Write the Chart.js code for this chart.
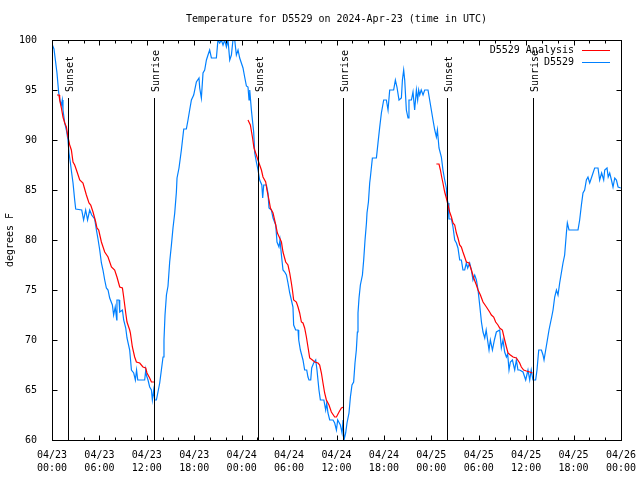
<!DOCTYPE html>
<html><head><meta charset="utf-8">
<script src="https://cdn.jsdelivr.net/npm/chart.js@4/dist/chart.umd.min.js"></script>
<style>html,body{margin:0;padding:0;background:#fff}canvas{display:block}</style>
</head><body>
<canvas id="c" width="640" height="480"></canvas>
<script>
const titleText = 'Temperature for D5529 on 2024-Apr-23 (time in UTC)';
const yTitle = 'degrees F';
const xTickLabels = ['04/23 00:00','04/23 06:00','04/23 12:00','04/23 18:00','04/24 00:00','04/24 06:00','04/24 12:00','04/24 18:00','04/25 00:00','04/25 06:00','04/25 12:00','04/25 18:00','04/26 00:00'];
const yTicks = [60,65,70,75,80,85,90,95,100];
const eventHours = [2.02, 12.91, 26.07, 36.82, 49.98, 60.86];
const eventLabels = ['Sunset','Sunrise','Sunset','Sunrise','Sunset','Sunrise'];
const seriesNames = ['D5529 Analysis','D5529'];

// observed D5529 (hours since 04/23 00:00 UTC, degrees F)
const obsHours = [0,0.25,0.63,0.85,1.06,1.19,1.3,1.39,1.61,1.82,2.02,2.15,2.33,2.49,2.66,2.87,3.0,3.76,4.0,4.26,4.5,4.77,5.02,5.4,5.62,5.82,6.04,6.25,6.45,6.67,6.88,7.09,7.3,7.64,7.8,8.0,8.19,8.22,8.48,8.57,8.91,9.07,9.33,9.49,9.83,10.05,10.34,10.55,10.7,10.85,11.73,11.86,11.94,12.15,12.36,12.58,12.7,12.87,13.0,13.21,13.41,13.63,13.84,14.05,14.17,14.3,14.48,14.68,14.89,15.11,15.31,15.53,15.74,15.82,16.07,16.37,16.67,17.0,17.21,17.42,17.64,17.93,18.27,18.6,18.69,18.9,19.11,19.32,19.54,19.74,19.95,20.17,20.8,21.0,21.22,21.43,21.64,21.85,22.07,22.27,22.49,22.7,22.9,23.12,23.33,23.54,23.75,23.96,24.17,24.38,24.6,24.8,24.93,25.02,25.23,25.36,25.52,25.65,25.86,26.07,26.28,26.55,26.66,26.79,27.13,27.33,27.46,27.76,27.97,28.31,28.47,28.72,28.85,29.03,29.23,29.45,29.66,29.86,30.08,30.29,30.49,30.58,30.83,31.13,31.22,31.43,31.76,31.97,32.23,32.39,32.52,32.74,32.86,33.11,33.37,33.53,33.78,33.96,34.4,34.63,34.76,34.92,35.14,35.56,35.77,35.99,36.15,36.49,36.7,36.83,36.95,37.16,37.33,37.58,37.76,37.96,38.17,38.34,38.51,38.64,38.72,38.85,39.02,39.28,39.44,39.61,39.79,39.86,40.04,40.2,40.29,40.54,41.05,41.25,41.47,41.68,41.97,42.31,42.52,42.73,43.23,43.45,43.65,43.91,44.21,44.34,44.5,44.63,44.84,45.05,45.17,45.48,45.68,45.89,46.11,46.27,46.4,46.53,46.72,46.95,47.16,47.58,47.79,48.0,48.21,48.43,48.64,48.77,48.97,49.27,49.47,49.69,49.9,49.98,50.11,50.23,50.54,50.74,50.96,51.17,51.37,51.59,51.8,52.0,52.22,52.43,52.6,52.85,53.07,53.27,53.49,53.7,53.91,54.12,54.34,54.54,54.76,54.94,55.17,55.3,55.47,55.73,55.98,56.23,56.65,56.86,57.07,57.28,57.5,57.66,57.83,58.0,58.26,58.55,58.76,58.96,59.18,59.6,59.94,60.23,60.45,60.64,60.86,61.2,61.37,61.59,61.93,62.13,62.26,62.47,62.64,62.89,63.07,63.23,63.4,63.61,63.83,64.03,64.24,64.45,64.66,64.87,65.09,65.21,65.42,66.56,66.77,66.99,67.19,67.4,67.62,67.82,68.04,68.46,68.67,69.09,69.3,69.55,69.81,69.94,70.23,70.38,70.57,70.79,70.99,71.21,71.42,71.63,71.97];
const obsTemps = [99.6,99.1,96.7,94.7,93.8,93.5,94,93,91.7,91,90,88.7,87.7,86.7,85.7,84,83.1,83,82,83,82,83,82.5,82.1,81,80.1,79,77.7,77,76,75.2,75,74.2,73.5,72.5,73.3,72,74,74,72.8,73,72,71.2,70.2,69,67,66.7,66,67,66,66,67,66.5,66,65.3,65,64,65,64,64,64.8,65.7,67,68.3,70,72.5,74.5,75.4,77.8,79.5,81.2,82.7,84.8,86.2,87.2,89,91.1,91.1,92,93,94,94.5,95.8,96.2,95.2,94.2,96.7,97,98,98.5,99,98.2,98.2,100,99.7,100,99.5,100,99.3,100,98,98.5,100,100,98.5,99,98.2,97.7,97.2,96.3,95.4,95.3,94,95,93,92,90.8,88.7,87.8,87,86,85.5,84.2,85.5,85.5,84.7,83.2,83,82.2,81.5,79.8,79.3,80,78.5,77,76.8,76.5,75.7,74.7,74,73.3,71.5,71,71,70,69,68,67,67,66.3,66,66,67.2,67.7,68,67,65,64,64,63,63.7,62.7,62,62,61.7,61,62,61.5,60.7,62,60,60.7,61.7,62.7,64.3,65.5,65.8,67.7,69,70.8,72.7,74.2,75.5,76.5,78,80,81.7,82.7,83.8,85.7,86.3,88.2,88.2,89.7,91.3,92.7,94,94,93,95,95,96,95.3,94,94.2,96,97,96,93,92.2,94,94,94.8,93,95,94,95,94.5,95,94.5,95,95,94,93,92,91,90.3,91,89.2,88.3,87,86,85.2,84.2,83.7,82.1,82.1,81.3,80,79.7,79.2,78,78,77,77,77.7,77.2,77.7,77,76,76.5,76,75,73.5,71.8,70.8,70.2,71,69.7,69,70,69,70,70.8,71,69.2,70,68.8,68.3,68.6,67,67.8,68,67,68,67,67,66.8,66,67,66,67,66,66,67,69,69,68.5,68,69,69.8,71,71.7,72.3,73,74.3,75,74.5,75.7,76.7,77.7,78.5,80.7,81.7,81,81,82,83.5,84.7,85,86,86.3,85.7,86.7,87.2,87.2,86,86.7,86,87,87.2,86.3,86.7,86,85.3,86.2,86,85.3,85.2];

// analysis (null temps break the line between nights)
const anaHours = [0.63,0.89,0.97,1.19,1.39,1.61,1.82,2.02,2.24,2.45,2.66,2.87,3.09,3.51,3.92,4.35,4.68,4.9,5.19,5.53,5.69,5.91,6.25,6.67,7.09,7.52,7.93,8.22,8.57,8.91,9.07,9.33,9.49,9.83,9.92,10.17,10.46,10.68,11.1,11.51,11.86,12.02,12.36,12.58,12.91,
 18,
 24.8,25.1,25.36,25.56,25.86,26.19,26.5,26.7,27.04,27.2,27.46,27.64,27.97,28.31,28.52,28.81,29.03,29.23,29.57,29.86,30.08,30.29,30.42,30.58,30.92,31.13,31.34,31.56,31.76,31.97,32.19,32.39,32.61,32.95,33.24,33.66,33.87,34.09,34.29,34.5,34.72,35.05,35.35,35.77,35.99,36.32,36.62,36.91,
 42,
 48.64,48.97,49.15,49.31,49.47,49.69,49.9,50.11,50.32,50.54,50.74,50.96,51.17,51.37,51.59,51.8,52.0,52.22,52.43,52.77,53.07,53.36,53.7,53.91,54.21,54.54,54.97,55.38,55.6,55.89,56.14,56.43,56.65,56.99,57.28,57.5,57.7,58.0,58.34,58.76,59.18,59.39,59.68,60.03,60.45,60.79];
const anaTemps = [94.5,94.5,94,93.2,92.3,91.7,91.3,90.3,89.5,89,87.8,87.5,87,86,85.7,84.5,83.7,83.5,82.8,81.8,81.2,81,79.8,78.8,78.3,77.3,77,76.3,75.3,75.2,74.3,72.7,71.8,71,70.7,69.3,68.3,67.8,67.7,67.3,67.2,66.7,66.2,65.8,65.8,
 null,
 92,91.5,90.3,89.2,88.5,87.7,87,86.3,85.8,85,84,83.2,82.7,81.5,80.7,80.2,79.8,78.8,77.8,77.5,76.7,75.7,75,74,73.8,73.3,72.7,71.8,71.7,71.2,70.3,69.3,68.2,68,67.8,67.7,67.5,66.7,65.7,64.7,64,63.5,62.8,62.3,62.3,62.8,63.2,63.3,
 null,
 87.6,87.6,87,86.3,85.7,84.8,84.2,83.5,82.8,82.3,81.7,81.5,80.7,80.2,79.5,79.3,78.8,78.3,77.8,77.7,77,76.2,75.5,75,74.5,73.8,73.3,72.8,72.5,72.3,71.8,71.5,71.2,71,70,69.3,68.7,68.5,68.3,68.2,67.7,67.3,67,66.9,66.8,66.7];

const FONT = 'DejaVu Sans Mono';
const RED = '#ff0000', BLUE = '#0080ff';

const gnuplotDecor = {
  id: 'gnuplotDecor',
  afterDatasetsDraw(chart) {
    const ctx = chart.ctx, a = chart.chartArea, xs = chart.scales.x, ys = chart.scales.y;
    ctx.save();
    ctx.strokeStyle = '#000'; ctx.lineWidth = 1;
    const yTop = ys.getPixelForValue(94.2);
    eventHours.forEach((h, i) => {
      const px = Math.round(xs.getPixelForValue(h)) + 0.5;
      ctx.beginPath(); ctx.moveTo(px, yTop); ctx.lineTo(px, a.bottom); ctx.stroke();
      ctx.save();
      ctx.translate(px + 2, yTop - 6);
      ctx.rotate(-Math.PI / 2);
      ctx.font = '10px ' + FONT; ctx.fillStyle = '#000';
      ctx.textAlign = 'left'; ctx.textBaseline = 'middle';
      ctx.fillText(eventLabels[i], 0, 0);
      ctx.restore();
    });
    const L = Math.round(a.left) + 0.5, R = Math.round(a.right) + 0.5, T = Math.round(a.top) + 0.5, B = Math.round(a.bottom) + 0.5;
    ctx.strokeRect(L, T, R - L, B - T);
    for (let h = 0; h <= 72; h += 2) {
      const px = Math.round(xs.getPixelForValue(h)) + 0.5;
      const len = (h % 6 === 0) ? 5 : 3;
      ctx.beginPath();
      ctx.moveTo(px, B); ctx.lineTo(px, B - len);
      ctx.moveTo(px, T); ctx.lineTo(px, T + len);
      ctx.stroke();
    }
    yTicks.forEach(v => {
      const py = Math.round(ys.getPixelForValue(v)) + 0.5;
      ctx.beginPath();
      ctx.moveTo(L, py); ctx.lineTo(L + 5, py);
      ctx.moveTo(R, py); ctx.lineTo(R - 5, py);
      ctx.stroke();
    });
    ctx.font = '10px ' + FONT; ctx.fillStyle = '#000';
    ctx.textAlign = 'center'; ctx.textBaseline = 'middle';
    ctx.fillText(titleText, (a.left + a.right) / 2, 19);
    ctx.save();
    ctx.translate(10, (a.top + a.bottom) / 2);
    ctx.rotate(-Math.PI / 2);
    ctx.fillText(yTitle, 0, 0);
    ctx.restore();
    const cols = [RED, BLUE];
    seriesNames.forEach((n, i) => {
      const y = 50 + i * 12;
      ctx.textAlign = 'right'; ctx.fillStyle = '#000';
      ctx.fillText(n, 574, y);
      ctx.strokeStyle = cols[i];
      ctx.beginPath(); ctx.moveTo(582, Math.round(y) + 0.5); ctx.lineTo(610, Math.round(y) + 0.5); ctx.stroke();
    });
    ctx.restore();
  }
};

const obsData = obsHours.map((h, i) => ({x: h, y: obsTemps[i]}));
const anaData = anaHours.map((h, i) => ({x: h, y: anaTemps[i]}));

Chart.defaults.font.family = FONT;
Chart.defaults.font.size = 10;
Chart.defaults.color = '#000';

new Chart(document.getElementById('c'), {
  type: 'line',
  data: {
    datasets: [
      {label: seriesNames[0], data: anaData, borderColor: RED, borderWidth: 1.2, pointRadius: 0, tension: 0, spanGaps: false, fill: false},
      {label: seriesNames[1], data: obsData, borderColor: BLUE, borderWidth: 1.2, pointRadius: 0, tension: 0, fill: false}
    ]
  },
  options: {
    responsive: false, animation: false, events: [],
    layout: {padding: {top: 40, right: 19, left: 0, bottom: 0}},
    plugins: {legend: {display: false}, title: {display: false}, tooltip: {enabled: false}},
    scales: {
      x: {
        type: 'linear', min: 0, max: 72,
        grid: {display: false}, border: {display: false},
        afterFit: s => { s.height = 40; s.paddingLeft = 0; s.paddingRight = 0; },
        afterBuildTicks: s => { s.ticks = xTickLabels.map((_, i) => ({value: i * 6})); },
        ticks: {
          autoSkip: false, maxRotation: 0, minRotation: 0, padding: 1,
          font: {family: FONT, size: 10, lineHeight: 1.3},
          callback: (v) => { const l = xTickLabels[Math.round(v / 6)]; return l ? l.split(' ') : ''; }
        }
      },
      y: {
        type: 'linear', min: 60, max: 100,
        grid: {display: false}, border: {display: false},
        afterFit: s => { s.width = 52; s.paddingTop = 0; s.paddingBottom = 0; },
        afterBuildTicks: s => { s.ticks = yTicks.map(v => ({value: v})); },
        ticks: {padding: 7, font: {family: FONT, size: 10}, callback: v => String(v)}
      }
    }
  },
  plugins: [gnuplotDecor]
});
</script>
</body></html>
